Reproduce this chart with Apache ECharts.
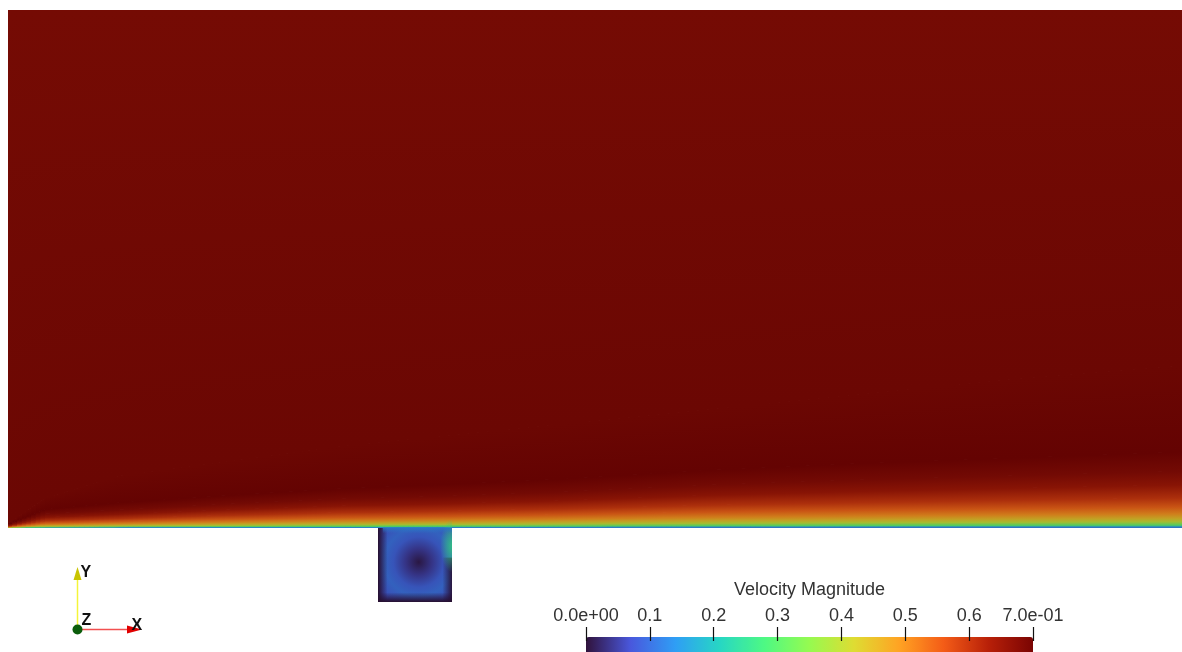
<!DOCTYPE html>
<html>
<head>
<meta charset="utf-8">
<script src="https://cdn.jsdelivr.net/npm/echarts@6/dist/echarts.min.js"></script>
<style>
  html, body { margin: 0; padding: 0; background: #ffffff; }
  #chart { width: 1182px; height: 652px; }
</style>
</head>
<body>
<div id="chart"></div>
<script>
// ---- colour map (Turbo), range 0 .. 0.7 ----
const speedMin = 0;
const speedMax = 0.7;
const turboStops = ['#30123b', '#4958dd', '#2f9ef5', '#27d7c3', '#4ef983', '#96fa50',
                    '#dfdc32', '#ffa323', '#f45c17', '#b82008', '#7a0403'];
const colorbarLabels = ['0.0e+00', '0.1', '0.2', '0.3', '0.4', '0.5', '0.6', '7.0e-01'];

// ---- channel flow over the wall (cavity opening spans x = 0 .. 10) ----
const stationX = [-50, -45, -35, -20, -5, 10, 25, 45, 65, 85, 110];
// speed carried by each isoline, from the wall upward to the top of the channel
const isoSpeed = [0.10, 0.15, 0.30, 0.40, 0.45, 0.50, 0.55, 0.60, 0.65, 0.68, 0.70, 0.69, 0.677];
// height of each isoline above the wall, one value per station
const isoHeight = [
  [0, 0, 0, 0, 0, 0, 0, 0, 0, 0, 0],
  [0.01, 0.04, 0.05, 0.06, 0.08, 0.09, 0.10, 0.12, 0.13, 0.14, 0.15],
  [0.02, 0.09, 0.12, 0.16, 0.20, 0.22, 0.24, 0.29, 0.32, 0.35, 0.39],
  [0.04, 0.21, 0.27, 0.36, 0.43, 0.48, 0.53, 0.64, 0.71, 0.77, 0.85],
  [0.07, 0.32, 0.41, 0.55, 0.67, 0.73, 0.83, 0.99, 1.10, 1.20, 1.31],
  [0.10, 0.47, 0.61, 0.81, 0.98, 1.08, 1.22, 1.45, 1.62, 1.76, 1.93],
  [0.15, 0.70, 0.90, 1.20, 1.45, 1.60, 1.80, 2.15, 2.40, 2.60, 2.85],
  [0.21, 1.00, 1.29, 1.72, 2.08, 2.29, 2.58, 3.08, 3.44, 3.73, 4.08],
  [0.31, 1.44, 1.85, 2.46, 2.98, 3.28, 3.69, 4.42, 4.93, 5.34, 5.85],
  [0.41, 1.89, 2.43, 3.24, 3.92, 4.32, 4.86, 5.81, 6.49, 7.03, 7.70],
  [0.50, 2.50, 3.40, 4.40, 5.30, 5.90, 6.60, 7.80, 8.70, 9.40, 10.3],
  [0.60, 4.00, 7.00, 9.00, 11.0, 12.5, 14.0, 16.0, 18.0, 20.0, 22.0],
  [70, 70, 70, 70, 70, 70, 70, 70, 70, 70, 70]
];

// ---- recirculating flow inside the cavity ----
const cavityX = [0, 10];
const cavityY = [-10, 0];
const vortexCentre = [5.5, -4.6];
const vortexRadius = [0, 1.8, 3.4, 4.6, 6.5];
const vortexSpeed = [0.01, 0.045, 0.085, 0.1, 0.075];
const wallLayer = 1.3;          // thickness of the slow layer along the cavity walls
const jetCentre = [10, -2.4];   // flow running down the downstream wall
const jetReach = [1.6, 3.6];    // its extent across and along the wall
const jetSpeed = 0.25;
const lipSpeed = 0.13;          // flow just under the cavity opening

const surfaceShade = 0.82;      // lit surface is a little darker than the legend
const sliceWidth = 5;           // pixel width of the strips each stretch is cut into

function hexRGB(h) {
  return [parseInt(h.slice(1, 3), 16), parseInt(h.slice(3, 5), 16), parseInt(h.slice(5, 7), 16)];
}
const stopRGB = turboStops.map(hexRGB);
function speedRGB(v) {
  let t = (v - speedMin) / (speedMax - speedMin);
  t = Math.max(0, Math.min(1, t));
  const f = t * (stopRGB.length - 1);
  const i = Math.min(Math.floor(f), stopRGB.length - 2);
  const u = f - i;
  return stopRGB[i].map((c, k) => c + (stopRGB[i + 1][k] - c) * u);
}
function fieldColor(v, a) {
  const c = speedRGB(v).map(x => Math.round(x * surfaceShade));
  return 'rgba(' + c[0] + ',' + c[1] + ',' + c[2] + ',' + (a === undefined ? 1 : a) + ')';
}
function vGrad(y0, y1, c0, c1) {
  return { type: 'linear', x: 0, y: y0, x2: 0, y2: y1, global: true,
           colorStops: [{ offset: 0, color: c0 }, { offset: 1, color: c1 }] };
}
function hGrad(x0, x1, c0, c1) {
  return { type: 'linear', x: x0, y: 0, x2: x1, y2: 0, global: true,
           colorStops: [{ offset: 0, color: c0 }, { offset: 1, color: c1 }] };
}
const bandColors = isoSpeed.map(v => fieldColor(v));

// one item per stretch between two neighbouring stations; the quad of every
// band is cut into narrow strips so each strip's gradient follows the band
function renderChannel(params, api) {
  const i = api.value(0);
  const xa = stationX[i], xb = stationX[i + 1];
  const lastSeg = i === stationX.length - 2;
  const pa = api.coord([xa, 0]), pb = api.coord([xb, 0]);
  const n = Math.max(1, Math.ceil((pb[0] - pa[0]) / sliceWidth));
  const children = [];
  for (let j = 0; j < n; j++) {
    const s0 = j / n, s1 = (j + 1) / n;
    const x0 = pa[0] + (pb[0] - pa[0]) * s0;
    let x1 = pa[0] + (pb[0] - pa[0]) * s1;
    if (!(lastSeg && j === n - 1)) x1 += 1;
    // pixel heights of every isoline at both strip edges
    const y0 = [], y1 = [];
    for (let k = 0; k < isoSpeed.length; k++) {
      const h0 = isoHeight[k][i] + (isoHeight[k][i + 1] - isoHeight[k][i]) * s0;
      const h1 = isoHeight[k][i] + (isoHeight[k][i + 1] - isoHeight[k][i]) * s1;
      y0.push(api.coord([xa, h0])[1]);
      y1.push(api.coord([xa, h1])[1]);
    }
    for (let k = 0; k < isoSpeed.length - 1; k++) {
      const lift = k < isoSpeed.length - 2 ? 0.8 : 0;
      const yb = (y0[k] + y1[k]) / 2;
      let yt = (y0[k + 1] + y1[k + 1]) / 2;
      if (Math.abs(yb - yt) < 0.01) yt = yb - 0.01;
      children.push({
        type: 'polygon',
        shape: { points: [[x0, y0[k]], [x1, y1[k]], [x1, y1[k + 1] - lift], [x0, y0[k + 1] - lift]] },
        style: { fill: vGrad(yb, yt, bandColors[k], bandColors[k + 1]) }
      });
    }
  }
  return { type: 'group', children: children };
}

function renderCavity(params, api) {
  const tl = api.coord([cavityX[0], cavityY[1]]);
  const br = api.coord([cavityX[1], cavityY[0]]);
  const w = br[0] - tl[0], h = br[1] - tl[1];
  const c = api.coord(vortexCentre);
  const rMax = vortexRadius[vortexRadius.length - 1];
  const rPix = api.size([rMax, 0])[0];
  const layer = api.size([wallLayer, 0])[0];
  const children = [];

  // vortex core and surrounding ring
  children.push({
    type: 'rect', shape: { x: tl[0], y: tl[1], width: w, height: h },
    style: { fill: { type: 'radial', x: c[0], y: c[1], r: rPix, global: true,
      colorStops: vortexRadius.map((r, k) => ({ offset: r / rMax, color: fieldColor(vortexSpeed[k]) })) } }
  });
  // slow layers along the walls
  children.push({
    type: 'rect', shape: { x: tl[0], y: tl[1], width: layer, height: h },
    style: { fill: hGrad(tl[0], tl[0] + layer, fieldColor(0, 1), fieldColor(0, 0)) }
  });
  children.push({
    type: 'rect', shape: { x: tl[0], y: br[1] - layer, width: w, height: layer },
    style: { fill: vGrad(br[1], br[1] - layer, fieldColor(0, 1), fieldColor(0, 0)) }
  });
  const rightTop = api.coord([cavityX[1], cavityY[1] - 4])[1];
  children.push({
    type: 'rect', shape: { x: br[0] - layer, y: rightTop, width: layer, height: br[1] - rightTop },
    style: { fill: { type: 'linear', x: br[0], y: 0, x2: br[0] - layer, y2: 0, global: true,
      colorStops: [{ offset: 0, color: fieldColor(0, 0.9) }, { offset: 1, color: fieldColor(0, 0) }] } }
  });
  // flow running down the downstream wall: half-ellipse hugging the wall
  const jc = api.coord(jetCentre);
  const jr = api.size([jetReach[0], 0])[0];
  const stretch = jetReach[1] / jetReach[0];
  children.push({
    type: 'sector', x: jc[0], y: jc[1], scaleY: stretch,
    shape: { cx: 0, cy: 0, r0: 0, r: jr, startAngle: Math.PI / 2, endAngle: Math.PI * 3 / 2, clockwise: true },
    style: { fill: { type: 'radial', x: 0, y: 0, r: jr, global: true,
      colorStops: [{ offset: 0, color: fieldColor(jetSpeed, 0.95) },
                   { offset: 0.45, color: fieldColor(jetSpeed, 0.55) },
                   { offset: 1, color: fieldColor(jetSpeed, 0) }] } }
  });
  // flow under the opening
  const lipH = api.size([0, 0.7])[1];
  children.push({
    type: 'rect', shape: { x: tl[0] + layer * 0.5, y: tl[1], width: w - layer * 0.5, height: lipH },
    style: { fill: vGrad(tl[1], tl[1] + lipH, fieldColor(lipSpeed, 0.8), fieldColor(lipSpeed, 0)) }
  });
  return { type: 'group', children: children };
}

const chart = echarts.init(document.getElementById('chart'), null, { renderer: 'canvas' });
const font = 'Liberation Sans, Arial, sans-serif';
const pxPerUnit = 7.4;
const fieldLeft = 8, fieldWidth = 1174;

chart.setOption({
  backgroundColor: '#ffffff',
  animation: false,
  grid: [
    { left: fieldLeft, top: 10, width: fieldWidth, height: 592, containLabel: false, outerBoundsMode: 'none' },
    { left: 586, top: 641, width: 447, height: 10, containLabel: false, outerBoundsMode: 'none' }
  ],
  xAxis: [
    { gridIndex: 0, type: 'value', min: -50, max: -50 + fieldWidth / pxPerUnit, show: false },
    {
      gridIndex: 1, type: 'value', position: 'top', min: speedMin, max: speedMax, interval: 0.1, z: 10,
      axisLine: { show: false, onZero: false },
      axisTick: { show: true, length: 14, lineStyle: { color: '#111', width: 1.2 } },
      splitLine: { show: false },
      axisLabel: { margin: 16, fontSize: 18, color: '#333', fontFamily: font,
                   formatter: (v, idx) => colorbarLabels[idx] },
      name: 'Velocity Magnitude', nameLocation: 'middle', nameGap: 42,
      nameTextStyle: { fontSize: 18, color: '#333', fontFamily: font }
    }
  ],
  yAxis: [
    { gridIndex: 0, type: 'value', min: -10, max: 70, show: false },
    { gridIndex: 1, type: 'value', min: 0, max: 1, show: false }
  ],
  visualMap: {
    type: 'continuous', orient: 'horizontal', seriesIndex: 2,
    min: speedMin, max: speedMax, calculable: false, hoverLink: false,
    left: 586, top: 637, padding: 0, itemWidth: 20, itemHeight: 447,
    inRange: { color: turboStops }, textStyle: { fontSize: 0 }
  },
  series: [
    {
      type: 'custom', xAxisIndex: 0, yAxisIndex: 0, renderItem: renderChannel,
      data: stationX.slice(0, -1).map((x, i) => [i]), silent: true, clip: false
    },
    {
      type: 'custom', xAxisIndex: 0, yAxisIndex: 0, renderItem: renderCavity,
      data: [[0]], silent: true, clip: false
    },
    { type: 'scatter', xAxisIndex: 1, yAxisIndex: 1, data: [], silent: true }
  ],
  graphic: [
    { type: 'line', shape: { x1: 77.5, y1: 629, x2: 77.5, y2: 578 }, style: { stroke: '#f4f43a', lineWidth: 1.5 } },
    { type: 'polygon', shape: { points: [[73.5, 580], [81.5, 580], [77.5, 567]] }, style: { fill: '#c9c400' } },
    { type: 'line', shape: { x1: 77.5, y1: 629.5, x2: 130, y2: 629.5 }, style: { stroke: '#f25050', lineWidth: 1.5 } },
    { type: 'polygon', shape: { points: [[127, 625.5], [127, 633.5], [142, 629.5]] }, style: { fill: '#e00000' } },
    { type: 'circle', shape: { cx: 77.5, cy: 629.5, r: 5 }, style: { fill: '#0b5d0b' } },
    { type: 'text', x: 80.5, y: 565, style: { text: 'Y', font: 'bold 16px ' + font, fill: '#111' } },
    { type: 'text', x: 81.5, y: 612.5, style: { text: 'Z', font: 'bold 16px ' + font, fill: '#111' } },
    { type: 'text', x: 131.5, y: 617.5, style: { text: 'X', font: 'bold 16px ' + font, fill: '#111' } }
  ]
});
</script>
</body>
</html>
